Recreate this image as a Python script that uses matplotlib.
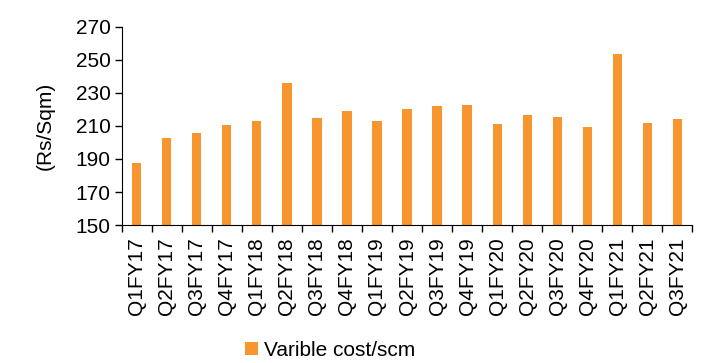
import matplotlib
matplotlib.use("Agg")
import matplotlib.pyplot as plt
import numpy as np

quarters = ["Q1FY17", "Q2FY17", "Q3FY17", "Q4FY17",
            "Q1FY18", "Q2FY18", "Q3FY18", "Q4FY18",
            "Q1FY19", "Q2FY19", "Q3FY19", "Q4FY19",
            "Q1FY20", "Q2FY20", "Q3FY20", "Q4FY20",
            "Q1FY21", "Q2FY21", "Q3FY21"]
variable_cost = [187.7, 202.6, 205.5, 210.5,
                 212.9, 236.3, 214.9, 219.2,
                 212.9, 220.2, 222.0, 222.6,
                 211.3, 216.7, 215.7, 209.5,
                 253.4, 211.9, 214.5]
y_ticks = [150, 170, 190, 210, 230, 250, 270]

plt.rcParams["font.family"] = ["Liberation Sans", "DejaVu Sans"]
plt.rcParams["font.size"] = 15

fig = plt.figure(figsize=(7.03, 3.63), dpi=100)
ax = fig.add_axes([0.173, 0.380, 0.812, 0.546])

x = np.arange(len(quarters))
ax.bar(x, variable_cost, width=0.31, color="#F7962F", label="Varible cost/scm")

ax.set_xlim(-0.5, len(quarters) - 0.5)
ax.set_ylim(150, 270)
ax.set_yticks(y_ticks)
ax.set_xticks(x)
ax.set_xticklabels(quarters, rotation=90)
ax.set_xticks(np.arange(-0.5, len(quarters)), minor=True)
ax.tick_params(axis="x", which="major", length=0, pad=9)
ax.tick_params(axis="x", which="minor", length=5, width=1)
ax.tick_params(axis="y", length=5, width=1, pad=3)
ax.set_ylabel("(Rs/Sqm)", labelpad=15)

for side in ["top", "right"]:
    ax.spines[side].set_visible(False)

fig.legend(loc="center", bbox_to_anchor=(0.47, 0.035), frameon=False,
           handlelength=0.6, handleheight=0.6, handletextpad=0.3)

fig.savefig("out.png", dpi=100)
